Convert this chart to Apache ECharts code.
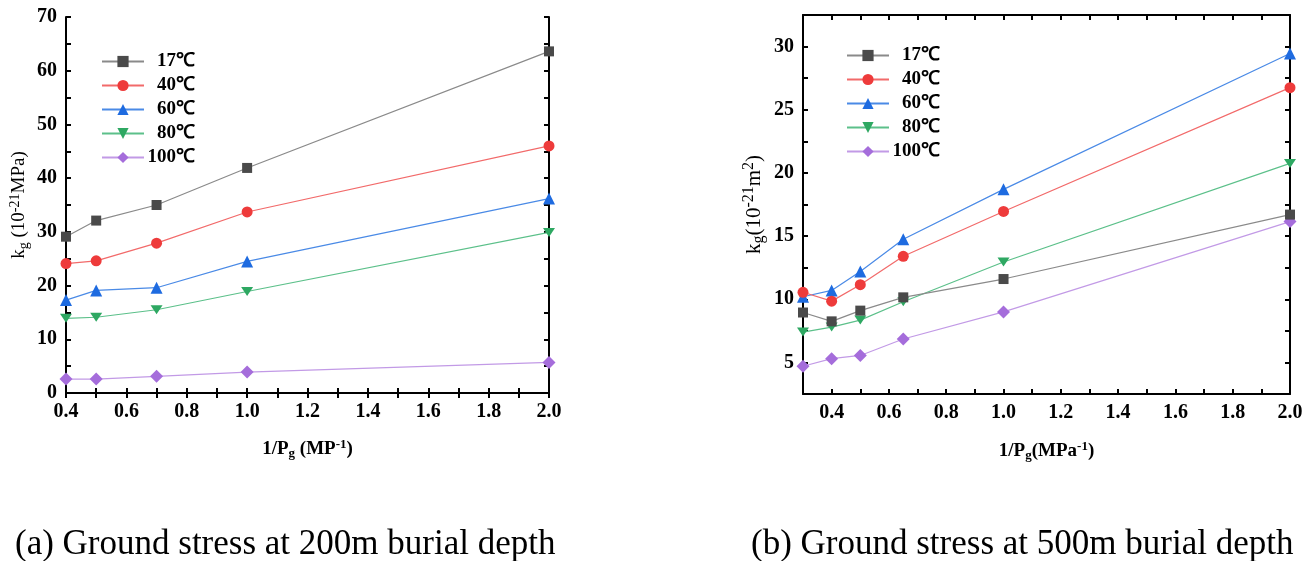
<!DOCTYPE html>
<html><head><meta charset="utf-8">
<script src="https://cdn.jsdelivr.net/npm/echarts@6/dist/echarts.min.js"></script>
<style>html,body{margin:0;padding:0;background:#fff}#c{width:1314px;height:561px}</style>
</head><body><div id="c"></div>
<script>
var names = ['17℃', '40℃', '60℃', '80℃', '100℃'];
var colorsMarker = ['#4a4a4a', '#ee3b3b', '#1e6be0', '#2ea862', '#a56ddb'];
var colorsLine = ['#8a8a8a', '#f26a6a', '#4a8ae6', '#5cc08a', '#c29ae6'];
var symbols = ['rect', 'circle', 'triangle', 'path://M0,0 L10,0 L5,9 Z', 'diamond'];

// (a) 200 m
var xA = [0.4, 0.5, 0.7, 1.0, 2.0];
var a17 = [29.1, 32.1, 35.0, 41.9, 63.6];
var a40 = [24.1, 24.6, 27.9, 33.7, 46.0];
var a60 = [17.3, 19.1, 19.6, 24.5, 36.2];
var a80 = [13.9, 14.1, 15.5, 18.9, 29.9];
var a100 = [2.6, 2.6, 3.1, 3.9, 5.7];

// (b) 500 m
var xB = [0.3, 0.4, 0.5, 0.65, 1.0, 2.0];
var b17 = [8.95, 8.25, 9.1, 10.15, 11.6, 16.7];
var b40 = [10.55, 9.85, 11.15, 13.4, 16.95, 26.75];
var b60 = [10.2, 10.7, 12.2, 14.75, 18.7, 29.45];
var b80 = [7.4, 7.8, 8.35, 9.8, 12.95, 20.75];
var b100 = [4.7, 5.3, 5.55, 6.85, 9.0, 16.15];

var xLabelsB = [0.4, 0.6, 0.8, 1.0, 1.2, 1.4, 1.6, 1.8, 2.0];
var xTicksB = [0.4, 0.5, 0.6, 0.7, 0.8, 0.9, 1.0, 1.1, 1.2, 1.3, 1.4, 1.5, 1.6, 1.7, 1.8, 1.9, 2.0];
var yLabelsB = [5, 10, 15, 20, 25, 30];
var yTicksB = [5, 7.5, 10, 12.5, 15, 17.5, 20, 22.5, 25, 27.5, 30];

var seriesA = [a17, a40, a60, a80, a100];
var seriesB = [b17, b40, b60, b80, b100];

var FONT = 'Liberation Serif';
var labelStyle = {fontFamily: FONT, fontWeight: 'bold', fontSize: 20, color: '#000'};
var lineStyle = {color: '#000', width: 2};

function pairs(xs, ys) { return xs.map(function (x, i) { return [x, ys[i]]; }); }

function mkSeries(arr, xs, xi, yi) {
  return arr.map(function (ys, k) {
    var size = [10, 11, 12, [12, 10], 13][k];
    return {
      type: 'line', name: names[k], xAxisIndex: xi, yAxisIndex: yi,
      data: pairs(xs, ys), symbol: symbols[k], symbolSize: size,
      symbolKeepAspect: true,
      lineStyle: {color: colorsLine[k], width: 1.2},
      itemStyle: {color: colorsMarker[k]},
      z: 3 + (5 - k), animation: false
    };
  });
}

var rich = {
  t: {fontFamily: FONT, fontWeight: 'bold', fontSize: 19, color: '#000'},
  sub: {fontFamily: FONT, fontWeight: 'bold', fontSize: 13, color: '#000', verticalAlign: 'bottom', padding: [9, 0, 0, 0]},
  sup: {fontFamily: FONT, fontWeight: 'bold', fontSize: 13, color: '#000', verticalAlign: 'top', padding: [0, 0, 9, 0]},
  n: {fontFamily: FONT, fontSize: 19, color: '#000'},
  nsup: {fontFamily: FONT, fontSize: 14, color: '#000', verticalAlign: 'top', padding: [0, 0, 9, 0]},
  nsub: {fontFamily: FONT, fontSize: 14, color: '#000', verticalAlign: 'bottom', padding: [9, 0, 0, 0]},
  n2: {fontFamily: FONT, fontSize: 21, color: '#000'},
  n2sup: {fontFamily: FONT, fontSize: 16, color: '#000', verticalAlign: 'top', padding: [0, 0, 10, 0]},
  n2sub: {fontFamily: FONT, fontSize: 16, color: '#000', verticalAlign: 'bottom', padding: [10, 0, 0, 0]}
};

function legendCfg(left, top) {
  return {
    left: left, top: top, orient: 'vertical', itemWidth: 42, itemHeight: 14, itemGap: 5,
    data: names.map(function (n) { return {name: n}; }),
    formatter: function (n) { return '{r|' + n + '}'; },
    textStyle: {fontFamily: FONT, fontWeight: 'bold', fontSize: 19, color: '#000',
      rich: {r: {fontFamily: FONT, fontWeight: 'bold', fontSize: 19, color: '#000', width: 46, align: 'right'}}},
    selectedMode: false
  };
}

var option = {
  animation: false,
  backgroundColor: '#fff',
  grid: [
    {left: 66, top: 17, width: 483, height: 376},
    {left: 803, top: 15, width: 487, height: 379}
  ],
  legend: [legendCfg(96, 47), legendCfg(841, 41)],
  title: [
    {text: '(a) Ground stress at 200m burial depth', left: 10, top: 522,
      textStyle: {fontFamily: FONT, fontWeight: 'normal', fontSize: 35, color: '#000'}},
    {text: '(b) Ground stress at 500m burial depth', left: 746, top: 522,
      textStyle: {fontFamily: FONT, fontWeight: 'normal', fontSize: 35, color: '#000'}}
  ],
  xAxis: [
    {type: 'value', gridIndex: 0, min: 0.4, max: 2.0, interval: 0.2, position: 'bottom',
      axisLine: {lineStyle: lineStyle}, splitLine: {show: false},
      axisTick: {inside: true, length: 5, lineStyle: lineStyle},
      minorTick: {show: true, splitNumber: 2, length: 5, lineStyle: lineStyle},
      axisLabel: Object.assign({margin: 9, formatter: function (v) { return v.toFixed(1); }}, labelStyle),
      name: '{t|1/P}{sub|g}{t| (MP}{sup|-1}{t|)}', nameLocation: 'middle', nameGap: 45,
      nameTextStyle: {rich: rich}},
    {type: 'value', gridIndex: 0, min: 0.4, max: 2.0, interval: 0.2, position: 'top',
      axisLine: {lineStyle: lineStyle}, splitLine: {show: false},
      axisTick: {inside: true, length: 5, lineStyle: lineStyle},
      minorTick: {show: true, splitNumber: 2, length: 5, lineStyle: lineStyle},
      axisLabel: {show: false}},
    {type: 'value', gridIndex: 1, min: 0.3, max: 2.0, position: 'bottom',
      axisLine: {lineStyle: lineStyle}, splitLine: {show: false},
      axisTick: {inside: true, length: 5, lineStyle: lineStyle, customValues: xTicksB},
      axisLabel: Object.assign({margin: 9, customValues: xLabelsB, formatter: function (v) { return v.toFixed(1); }}, labelStyle),
      name: '{t|1/P}{sub|g}{t|(MPa}{sup|-1}{t|)}', nameLocation: 'middle', nameGap: 46,
      nameTextStyle: {rich: rich}},
    {type: 'value', gridIndex: 1, min: 0.3, max: 2.0, position: 'top',
      axisLine: {lineStyle: lineStyle}, splitLine: {show: false},
      axisTick: {inside: true, length: 5, lineStyle: lineStyle, customValues: xTicksB},
      axisLabel: {show: false}}
  ],
  yAxis: [
    {type: 'value', gridIndex: 0, min: 0, max: 70, interval: 10, position: 'left',
      axisLine: {lineStyle: lineStyle}, splitLine: {show: false},
      axisTick: {inside: true, length: 5, lineStyle: lineStyle},
      minorTick: {show: true, splitNumber: 2, length: 5, lineStyle: lineStyle},
      axisLabel: Object.assign({margin: 9}, labelStyle),
      name: '{n|k}{nsub|g}{n| (10}{nsup|-21}{n|MPa)}', nameLocation: 'middle', nameGap: 35, nameRotate: 90,
      nameTextStyle: {rich: rich}},
    {type: 'value', gridIndex: 0, min: 0, max: 70, interval: 10, position: 'right',
      axisLine: {lineStyle: lineStyle}, splitLine: {show: false},
      axisTick: {inside: true, length: 5, lineStyle: lineStyle},
      minorTick: {show: true, splitNumber: 2, length: 5, lineStyle: lineStyle},
      axisLabel: {show: false}},
    {type: 'value', gridIndex: 1, min: 2.5, max: 32.5, position: 'left',
      axisLine: {lineStyle: lineStyle}, splitLine: {show: false},
      axisTick: {inside: true, length: 5, lineStyle: lineStyle, customValues: yTicksB},
      axisLabel: Object.assign({margin: 9, customValues: yLabelsB}, labelStyle),
      name: '{n2|k}{n2sub|g}{n2|(10}{n2sup|-21}{n2|m}{n2sup|2}{n2|)}', nameLocation: 'middle', nameGap: 36, nameRotate: 90,
      nameTextStyle: {rich: rich}},
    {type: 'value', gridIndex: 1, min: 2.5, max: 32.5, position: 'right',
      axisLine: {lineStyle: lineStyle}, splitLine: {show: false},
      axisTick: {inside: true, length: 5, lineStyle: lineStyle, customValues: yTicksB},
      axisLabel: {show: false}}
  ],
  series: mkSeries(seriesA, xA, 0, 0).concat(mkSeries(seriesB, xB, 2, 2))
};
var chart = echarts.init(document.getElementById('c'), null, {renderer: 'canvas'});
chart.setOption(option);
</script></body></html>
